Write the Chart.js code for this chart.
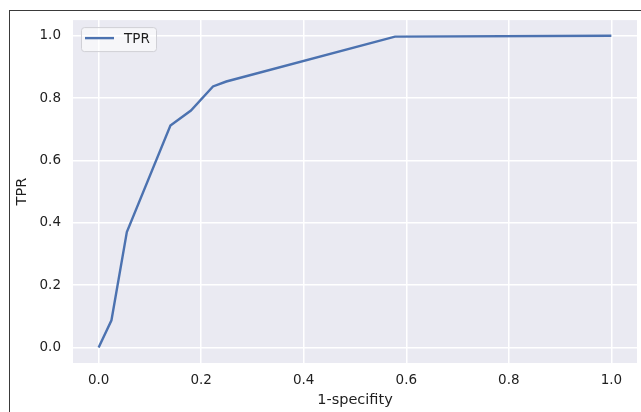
<!DOCTYPE html>
<html>
<head>
<meta charset="utf-8">
<script src="https://cdn.jsdelivr.net/npm/chart.js@4/dist/chart.umd.min.js"></script>
<style>
  body { margin: 0; background: #fff; }
  #wrap { position: relative; width: 641px; height: 412px; overflow: hidden; }
  #frame {
    position: absolute; left: 9px; top: 10px; right: -5px; bottom: -5px;
    border-left: 1px solid #3a3a3a; border-top: 1px solid #3a3a3a;
    pointer-events: none;
  }
</style>
</head>
<body>
<div id="wrap">
  <canvas id="roc"></canvas>
  <div id="frame"></div>
</div>
<script>
// ROC curve points
const fpr = [0, 0.025, 0.055, 0.14, 0.18, 0.223, 0.249, 0.578, 1.0];
const tpr = [0, 0.087, 0.37, 0.712, 0.76, 0.837, 0.853, 0.997, 1.0];
const xTicks = [0, 0.2, 0.4, 0.6, 0.8, 1.0];
const yTicks = [0, 0.2, 0.4, 0.6, 0.8, 1.0];
const seriesLabel = 'TPR';

const textColor = '#1e1e1e';
const lineColor = '#4C72B0';
const fontFamily = '"DejaVu Sans", sans-serif';

// plot background like seaborn darkgrid
const plotBg = {
  id: 'plotBg',
  beforeDraw(chart) {
    const { ctx, chartArea: a } = chart;
    ctx.save();
    ctx.fillStyle = '#EAEAF2';
    ctx.fillRect(a.left, a.top, a.right - a.left, a.bottom - a.top);
    ctx.restore();
  }
};

// legend box in the upper left corner of the plot
const innerLegend = {
  id: 'innerLegend',
  afterDatasetsDraw(chart) {
    const { ctx, chartArea: a } = chart;
    const x = a.left + 8, y = a.top + 7, w = 75, h = 24;
    ctx.save();
    ctx.fillStyle = 'rgba(255,255,255,0.55)';
    ctx.strokeStyle = '#d0d0d6';
    ctx.lineWidth = 1;
    ctx.beginPath();
    ctx.roundRect(x + 0.5, y + 0.5, w, h, 3);
    ctx.fill();
    ctx.stroke();
    ctx.strokeStyle = lineColor;
    ctx.lineWidth = 2.4;
    ctx.beginPath();
    ctx.moveTo(x + 4, y + 11);
    ctx.lineTo(x + 33, y + 11);
    ctx.stroke();
    ctx.fillStyle = textColor;
    ctx.font = '13.5px ' + fontFamily;
    ctx.textBaseline = 'middle';
    ctx.fillText(seriesLabel, x + 43, y + 12);
    ctx.restore();
  }
};

new Chart(document.getElementById('roc'), {
  type: 'line',
  data: {
    datasets: [{
      label: seriesLabel,
      data: fpr.map((v, i) => ({ x: v, y: tpr[i] })),
      borderColor: lineColor,
      borderWidth: 2.4,
      pointRadius: 0,
      tension: 0,
      fill: false
    }]
  },
  options: {
    responsive: true,
    maintainAspectRatio: false,
    animation: false,
    layout: { padding: { left: 0, top: 20, right: 4, bottom: 0 } },
    plugins: { legend: { display: false }, tooltip: { enabled: false } },
    scales: {
      x: {
        type: 'linear',
        min: -0.05,
        max: 1.05,
        afterBuildTicks: s => { s.ticks = xTicks.map(v => ({ value: v })); },
        afterFit: s => { s.height = 49; },
        grid: { color: '#ffffff', lineWidth: 1.5, drawTicks: false },
        border: { display: false },
        ticks: {
          color: textColor,
          padding: 9,
          font: { family: fontFamily, size: 13.5 },
          callback: v => v.toFixed(1)
        },
        title: {
          display: true,
          text: '1-specifity',
          color: textColor,
          font: { family: fontFamily, size: 14.5 },
          padding: { top: 0, bottom: 3 }
        }
      },
      y: {
        min: -0.05,
        max: 1.05,
        afterBuildTicks: s => { s.ticks = yTicks.map(v => ({ value: v })); },
        afterFit: s => { s.width = 73; },
        grid: { color: '#ffffff', lineWidth: 1.5, drawTicks: false },
        border: { display: false },
        ticks: {
          color: textColor,
          padding: 12,
          font: { family: fontFamily, size: 13.5 },
          callback: v => v.toFixed(1)
        },
        title: {
          display: true,
          text: 'TPR',
          color: textColor,
          font: { family: fontFamily, size: 14.5 },
          padding: { top: 14, bottom: 0 }
        }
      }
    }
  },
  plugins: [plotBg, innerLegend]
});
</script>
</body>
</html>
